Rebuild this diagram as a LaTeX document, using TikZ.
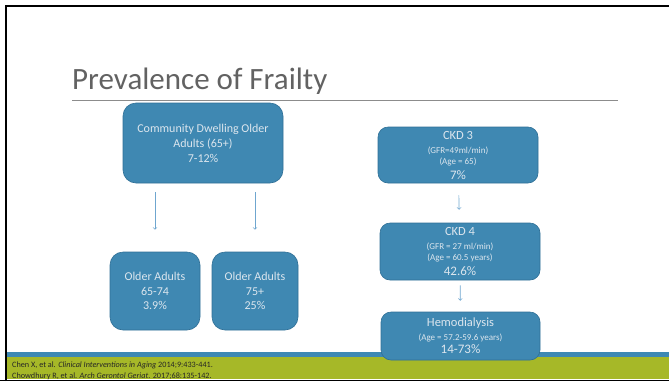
\documentclass[tikz,border=0pt]{standalone}
\usepackage{fontspec}
\setmainfont{Carlito}
\usepackage{xcolor}
\usetikzlibrary{arrows, positioning}
\definecolor{boxblue}{HTML}{3F88B2}
\definecolor{boxedge}{HTML}{2F6F96}
\definecolor{boxtext}{HTML}{DCE6EE}
\definecolor{arrowblue}{HTML}{6FA6CF}
\definecolor{barblue}{HTML}{3E89B4}
\definecolor{bargreen}{HTML}{A6B828}
\definecolor{titlegray}{HTML}{626262}
\tikzstyle{bluebox} = [rectangle, rounded corners=13pt, fill=boxblue, draw=boxedge, line width=0.6pt, text=boxtext, align=center, inner sep=2pt]
\tikzstyle{ckdbox} = [bluebox, rounded corners=10pt, minimum width=160pt]
\tikzstyle{arrow} = [draw=arrowblue, line width=0.7pt, ->, >=to]

\begin{document}
\begin{tikzpicture}[x=1pt, y=-1pt]

      \useasboundingbox (0,0) rectangle (669,381);
      \clip (0,0) rectangle (669,381);

      % Slide frame and footer
      \fill[barblue] (6,352) rectangle (669,357);
      \fill[bargreen] (6,357) rectangle (669,379);
      \draw[line width=2pt] (6,381) -- (6,6) -- (669,6);

      \node (ref1) [anchor=base west, inner sep=0pt, text=black!85, font=\fontsize{8.2}{9}\selectfont] at (12,367) {Chen X, et al. \textit{Clinical Interventions in Aging} 2014;9:433-441.};
      \node (ref2) [anchor=base west, inner sep=0pt, text=black!85, font=\fontsize{8.2}{9}\selectfont] at (12,378) {Chowdhury R, et al. \textit{Arch Gerontol Geriat}. 2017;68:135-142.};
      \fill[black] (0,379.5) rectangle (669,381);

      % Title
      \node (title) [anchor=base west, inner sep=0pt, text=titlegray, font=\fontsize{31}{34}\selectfont] at (72,89) {Prevalence of Frailty};
      \draw[black!45, line width=0.8pt] (72,100) -- (618,100);

      % Nodes
      \node (comm) [bluebox, minimum width=160pt, minimum height=80pt, font=\fontsize{12}{15}\selectfont] at (203,143) {Community Dwelling Older\\Adults (65+)\\7-12\%};
      \node (young) [bluebox, minimum width=90pt, minimum height=78pt, font=\fontsize{12}{14.5}\selectfont] at (155,291) {Older Adults\\65-74\\3.9\%};
      \node (old) [bluebox, minimum width=86pt, minimum height=78pt, font=\fontsize{12}{14.5}\selectfont] at (255,291) {Older Adults\\75+\\25\%};

      \node (ckd3) [ckdbox, minimum height=56pt, font=\fontsize{9}{11}\selectfont] at (458,155) {{\fontsize{12.5}{14}\selectfont CKD 3}\\[3pt](GFR=49ml/min)\\(Age = 65)\\[4pt]{\fontsize{13}{14}\selectfont 7\%}};
      \node (ckd4) [ckdbox, minimum height=57pt, font=\fontsize{9}{11}\selectfont] at (460,251.5) {{\fontsize{12.5}{14}\selectfont CKD 4}\\[3pt](GFR = 27 ml/min)\\(Age = 60.5 years)\\[4pt]{\fontsize{13}{14}\selectfont 42.6\%}};
      \node (hemo) [ckdbox, minimum width=159pt, minimum height=48pt, font=\fontsize{9}{12}\selectfont] at (460.5,336) {{\fontsize{12.5}{14}\selectfont Hemodialysis}\\[1.5pt](Age = 57.2-59.6 years)\\[1.5pt]{\fontsize{13}{14}\selectfont 14-73\%}};

      % Arrows
      \draw [arrow, shorten <=9pt, shorten >=22pt] (comm.south -| young) -- (young);
      \draw [arrow, shorten <=9pt, shorten >=22pt] (comm.south -| old) -- (old);
      \draw [arrow, shorten <=12pt, shorten >=13pt] (ckd3) -- (ckd4);
      \draw [arrow, shorten <=5pt, shorten >=11pt] (ckd4) -- (hemo);

    \end{tikzpicture}
\end{document}
